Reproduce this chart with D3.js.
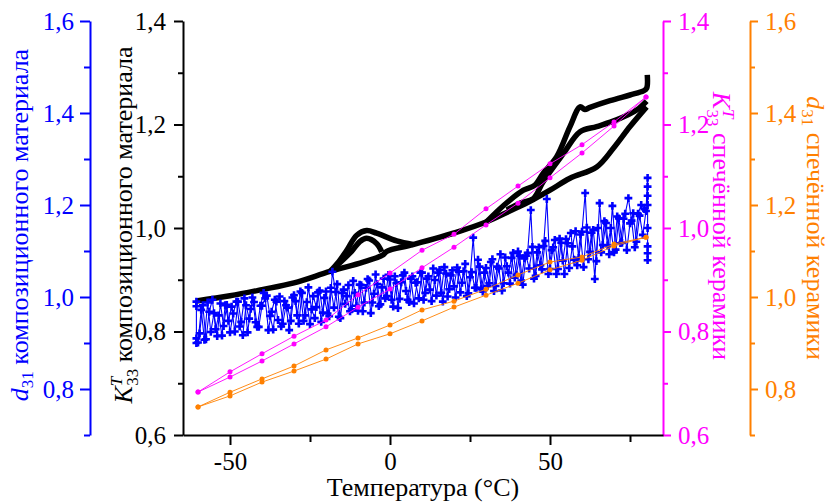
<!DOCTYPE html>
<html>
<head>
<meta charset="utf-8">
<script src="https://cdn.jsdelivr.net/npm/d3@7"></script>
<style>
    body { margin: 0; background: #fff; }
    svg { display: block; }
    svg text { font-family: "Liberation Serif", "Times New Roman", serif; }
</style>
</head>
<body>
<svg id="chart" width="830" height="502"></svg>
<script>
// ----- data -----

// sintered ceramic, measured every 10 degrees (two runs)
let cerTemps = [-60, -50, -40, -30, -20, -10, 0, 10, 20, 30, 40, 50, 60, 70, 80];
let kCerUp = [0.683, 0.722, 0.757, 0.791, 0.822, 0.871, 0.913, 0.957, 0.988, 1.037, 1.081, 1.124, 1.161, 1.205, 1.253];
let kCerDown = [0.683, 0.712, 0.743, 0.776, 0.809, 0.847, 0.882, 0.923, 0.963, 1.006, 1.048, 1.097, 1.145, 1.197, 1.253];
let dCerUp = [0.761, 0.793, 0.822, 0.850, 0.885, 0.911, 0.939, 0.972, 0.991, 1.017, 1.048, 1.076, 1.087, 1.115, 1.130];
let dCerDown = [0.761, 0.785, 0.815, 0.839, 0.865, 0.898, 0.920, 0.948, 0.978, 1.004, 1.030, 1.059, 1.080, 1.111, 1.130];

// composite K33 (black), [temperature, value] per branch
let kCompLower = [[-60.5, 0.859], [-50, 0.869], [-40, 0.881], [-30, 0.894], [-18.75, 0.916], [-8.4, 0.934],
    [-2.2, 0.948], [-1, 0.955], [7.2, 0.968], [21.9, 0.994], [30.2, 1.012], [36.5, 1.030], [40.6, 1.042],
    [44.8, 1.055], [50, 1.073], [56.25, 1.096], [64.6, 1.118], [69.8, 1.154], [75, 1.196], [80.2, 1.234]];
let kCompBumpOuter = [[-18.75, 0.916], [-16, 0.935], [-13.5, 0.957], [-10.4, 0.986], [-7.3, 0.995],
    [-4.2, 0.990], [2.1, 0.975], [7.2, 0.968]];
let kCompBumpInner = [[-17, 0.925], [-12, 0.955], [-9.4, 0.974], [-7.3, 0.980], [-4.2, 0.970], [-2.6, 0.954]];
let kCompUpper = [[30.2, 1.012], [33.3, 1.031], [37.5, 1.054], [41.7, 1.073], [45.3, 1.083], [47.9, 1.106],
    [52.1, 1.138], [56.25, 1.196], [59.4, 1.234], [60.9, 1.229], [62.5, 1.233], [68.75, 1.246], [75, 1.257],
    [79.2, 1.265], [80.2, 1.270], [80.4, 1.296]];
let kCompMiddle = [[36.5, 1.035], [40.6, 1.048], [44.8, 1.057], [47.9, 1.090], [54.2, 1.144], [59.4, 1.186],
    [64.6, 1.196], [70.8, 1.209], [77.1, 1.228], [80.2, 1.245]];

// composite d31 (blue), first run, [temperature, value]
let dCompRun1 = [
    [-60.5, 0.990], [-60.5, 0.900], [-60.5, 0.980], [-60.5, 0.910],
    [-60, 0.901], [-59, 0.972], [-58, 0.907], [-57, 0.988], [-56, 0.924], [-55, 0.965], [-54, 0.915], [-53, 0.986], [-52, 0.937],
    [-51, 0.983], [-50, 0.923], [-49, 0.964], [-48, 0.990], [-47, 0.936], [-46, 0.917], [-45, 0.982], [-44, 0.953], [-43, 0.999], [-42, 0.945],
    [-41, 0.935], [-40, 0.981], [-39, 0.997], [-38, 0.928], [-37, 0.968], [-36, 0.994], [-35, 0.950], [-34, 0.936], [-33, 0.991], [-32, 0.977],
    [-31, 0.948], [-30, 1.004], [-29, 0.960], [-28, 1.012], [-27, 0.948], [-26, 0.989], [-25, 0.941], [-24, 1.002], [-23, 0.978], [-22, 1.014],
    [-21, 0.966], [-20, 1.012], [-19, 0.958], [-18, 1.055], [-17, 1.011], [-16, 0.957], [-15, 1.009], [-14, 0.985], [-13, 1.026], [-12, 0.973],
    [-11, 1.009], [-10, 0.970], [-9, 1.026], [-8, 0.988], [-7, 1.039], [-6, 0.965], [-5, 1.007], [-4, 1.028], [-3, 0.984], [-2, 1.040],
    [-1, 1.002], [0, 1.038], [1, 0.979], [2, 1.030], [3, 0.996], [4, 1.047], [5, 1.013], [6, 0.989], [7, 1.045], [8, 1.031],
    [9, 0.997], [10, 1.053], [11, 1.009], [12, 1.045], [13, 0.991], [14, 1.037], [15, 1.053], [16, 1.009], [17, 1.065], [18, 1.001],
    [19, 1.047], [20, 1.023], [21, 1.064], [22, 1.010], [23, 1.056], [24, 1.002], [25, 1.043], [26, 1.129], [27, 1.020], [28, 1.066],
    [29, 1.012], [30, 1.063], [31, 1.030], [32, 1.082], [33, 1.024], [34, 1.062], [35, 1.014], [36, 1.086], [37, 1.053], [38, 1.085],
    [39, 1.042], [40, 1.099], [41, 1.036], [42, 1.084], [43, 1.096], [44, 1.189], [45, 1.040], [46, 1.097], [47, 1.069], [48, 1.111],
    [49, 1.213], [50, 1.061], [51, 1.108], [52, 1.050], [53, 1.127], [54, 1.079], [55, 1.126], [56, 1.063], [57, 1.110], [58, 1.143],
    [59, 1.085], [60, 1.142], [61, 1.226], [62, 1.082], [63, 1.140], [64, 1.039], [65, 1.150], [66, 1.097], [67, 1.165], [68, 1.112],
    [69, 1.150], [70, 1.097], [71, 1.175], [72, 1.117], [73, 1.170], [74, 1.102], [75, 1.160], [76, 1.182], [77, 1.120], [78, 1.177],
    [79, 1.135], [80, 1.187],
    [80.5, 1.259], [80.5, 1.080], [80.5, 1.240], [80.5, 1.095], [80.5, 1.220], [80.5, 1.110], [80.5, 1.200], [80.5, 1.150]
];

// composite d31 (blue), second run
let dCompRun2 = [
    [-59.5, 0.921], [-58.5, 0.982], [-57.5, 0.908], [-56.5, 0.968], [-55.5, 0.994], [-54.5, 0.930], [-53.5, 0.960], [-52.5, 0.916], [-51.5, 0.982], [-50.5, 0.948],
    [-49.5, 0.979], [-48.5, 0.925], [-47.5, 0.990], [-46.5, 0.946], [-45.5, 0.997], [-44.5, 0.923], [-43.5, 0.974], [-42.5, 0.989], [-41.5, 0.935], [-40.5, 0.981],
    [-39.5, 1.009], [-38.5, 1.003], [-37.5, 0.959], [-36.5, 0.929], [-35.5, 0.990], [-34.5, 1.001], [-33.5, 0.942], [-32.5, 0.982], [-31.5, 0.928], [-30.5, 0.999],
    [-29.5, 0.991], [-28.5, 0.942], [-27.5, 1.009], [-26.5, 0.960], [-25.5, 1.021], [-24.5, 0.973], [-23.5, 0.954], [-22.5, 1.010], [-21.5, 0.946], [-20.5, 0.998],
    [-19.5, 0.964], [-18.5, 1.020], [-17.5, 0.977], [-16.5, 1.028], [-15.5, 0.954], [-14.5, 1.016], [-13.5, 1.002], [-12.5, 0.969], [-11.5, 1.035], [-10.5, 0.981],
    [-9.5, 1.027], [-8.5, 0.969], [-7.5, 1.020], [-6.5, 1.036], [-5.5, 0.988], [-4.5, 1.049], [-3.5, 0.980], [-2.5, 1.021], [-1.5, 0.997], [-0.5, 1.048],
    [0.5, 0.994], [1.5, 1.045], [2.5, 0.976], [3.5, 1.032], [4.5, 1.053], [5.5, 0.994], [6.5, 1.040], [7.5, 0.986], [8.5, 1.032], [9.5, 1.053],
    [10.5, 0.994], [11.5, 1.040], [12.5, 1.016], [13.5, 1.062], [14.5, 1.003], [15.5, 1.059], [16.5, 0.990], [17.5, 1.051], [18.5, 1.017], [19.5, 1.058],
    [20.5, 0.999], [21.5, 1.055], [22.5, 1.031], [23.5, 1.072], [24.5, 1.008], [25.5, 1.054], [26.5, 1.020], [27.5, 1.081], [28.5, 1.017], [29.5, 1.053],
    [30.5, 1.024], [31.5, 1.076], [32.5, 1.013], [33.5, 1.066], [34.5, 1.093], [35.5, 1.030], [36.5, 1.067], [37.5, 1.029], [38.5, 1.096], [39.5, 1.048],
    [40.5, 1.090], [41.5, 1.027], [42.5, 1.090], [43.5, 1.062], [44.5, 1.109], [45.5, 1.046], [46.5, 1.108], [47.5, 1.060], [48.5, 1.122], [49.5, 1.050],
    [50.5, 1.102], [51.5, 1.124], [52.5, 1.061], [53.5, 1.118], [54.5, 1.050], [55.5, 1.117], [56.5, 1.139], [57.5, 1.081], [58.5, 1.069], [59.5, 1.136],
    [60.5, 1.065], [61.5, 1.151], [62.5, 1.098], [63.5, 1.146], [64.5, 1.078], [65.5, 1.204], [66.5, 1.113], [67.5, 1.161], [68.5, 1.093], [69.5, 1.198],
    [70.5, 1.103], [71.5, 1.171], [72.5, 1.118], [73.5, 1.181], [74.5, 1.215], [75.5, 1.166], [76.5, 1.108], [77.5, 1.181], [78.5, 1.200], [79.5, 1.191]
];

let tTicks = [-50, 0, 50];
let tMinor = [-25, 25, 75];
let kTicks = [0.6, 0.8, 1.0, 1.2, 1.4];
let kMinor = [0.7, 0.9, 1.1, 1.3];
let dTicks = [0.8, 1.0, 1.2, 1.4, 1.6];
let dMinor = [0.7, 0.9, 1.1, 1.3, 1.5];

// ----- chart -----

let blue = "#0000ff";
let magenta = "#ff00ff";
let orange = "#ff8000";
let serif = "Liberation Serif, Times New Roman, serif";

let plotLeft = 183, plotRight = 663, plotTop = 21, plotBottom = 435;

let svg = d3.select("#chart");

let x = d3.scaleLinear().domain([-64.6875, 85.3125]).range([plotLeft, plotRight]);
let yK = d3.scaleLinear().domain([0.6, 1.4]).range([plotBottom, plotTop]);
let yD = d3.scaleLinear().domain([0.7, 1.6]).range([plotBottom, plotTop]);

let commaFmt = d => d.toFixed(1).replace(".", ",");
let tempFmt = d => (d < 0 ? "-" + Math.abs(d) : "" + d);

function addAxis(gen, scale, pos, major, minor, color, fmt, majorLen, minorLen, pad) {
    let gMinor = svg.append("g")
        .attr("transform", pos)
        .call(gen(scale).tickValues(minor).tickSize(minorLen).tickSizeOuter(0).tickFormat(""));
    gMinor.select(".domain").remove();
    let gMajor = svg.append("g")
        .attr("transform", pos)
        .call(gen(scale).tickValues(major).tickSize(majorLen).tickPadding(pad).tickSizeOuter(0).tickFormat(fmt));
    [gMinor, gMajor].forEach(g => {
        g.attr("font-family", serif).attr("font-size", 25);
        g.selectAll("path, line").attr("stroke", color).attr("stroke-width", 2);
        g.selectAll("text")
            .attr("fill", color)
            .attr("font-family", serif)
            .attr("font-size", 25);
    });
}

addAxis(d3.axisLeft, yD, "translate(90,0)", dTicks, dMinor, blue, commaFmt, 10, 6, 6);
addAxis(d3.axisLeft, yK, `translate(${plotLeft},0)`, kTicks, kMinor, "#000", commaFmt, 9, 5, 8);
addAxis(d3.axisRight, yK, `translate(${plotRight},0)`, kTicks, kMinor, magenta, commaFmt, 8, 5, 7);
addAxis(d3.axisRight, yD, "translate(750,0)", dTicks, dMinor, orange, commaFmt, 8, 5, 7);
addAxis(d3.axisBottom, x, `translate(0,${plotBottom})`, tTicks, tMinor, "#000", tempFmt, 10, 7, 7);

// composite K33, thick black branches
let kLine = d3.line()
    .x(d => x(d[0]))
    .y(d => yK(d[1]))
    .curve(d3.curveCatmullRom);

[kCompLower, kCompBumpOuter, kCompBumpInner, kCompUpper, kCompMiddle].forEach(branch => {
    svg.append("path")
        .datum(branch)
        .attr("fill", "none")
        .attr("stroke", "#000")
        .attr("stroke-width", 5.5)
        .attr("stroke-linejoin", "round")
        .attr("d", kLine);
});

// composite d31, blue noisy points
let dLine = d3.line().x(d => x(d[0])).y(d => yD(d[1]));

[dCompRun1, dCompRun2].forEach(run => {
    svg.append("path")
        .datum(run)
        .attr("fill", "none")
        .attr("stroke", blue)
        .attr("stroke-width", 1.1)
        .attr("d", dLine);
});

[dCompRun1, dCompRun2].forEach(run => {
    svg.append("g")
        .selectAll("path")
        .data(run)
        .enter()
        .append("path")
        .attr("fill", blue)
        .attr("transform", d => `translate(${x(d[0])},${yD(d[1])})`)
        .attr("d", d3.symbol(d3.symbolCross).size(34));
});

// sintered ceramic series
function addCeramic(values, scale, color) {
    let pts = cerTemps.map((t, i) => [t, values[i]]);
    svg.append("path")
        .datum(pts)
        .attr("fill", "none")
        .attr("stroke", color)
        .attr("stroke-width", 0.9)
        .attr("d", d3.line().x(d => x(d[0])).y(d => scale(d[1])));
    svg.append("g")
        .selectAll("circle")
        .data(pts)
        .enter()
        .append("circle")
        .attr("cx", d => x(d[0]))
        .attr("cy", d => scale(d[1]))
        .attr("r", 2.5)
        .attr("fill", color);
}

addCeramic(dCerUp, yD, orange);
addCeramic(dCerDown, yD, orange);
addCeramic(kCerUp, yK, magenta);
addCeramic(kCerDown, yK, magenta);

// ----- titles -----

function title(tx, ty, angle, color) {
    return svg.append("text")
        .attr("transform", `translate(${tx},${ty}) rotate(${angle})`)
        .attr("text-anchor", "middle")
        .attr("fill", color)
        .attr("font-family", serif)
        .attr("font-size", 26);
}

function addK(t) {
    t.append("tspan").style("font-style", "italic").text("K");
    t.append("tspan").style("font-style", "italic").attr("font-size", 17).attr("dy", -10).text("T");
    t.append("tspan").attr("font-size", 17).attr("dx", -9).attr("dy", 16).text("33");
    t.append("tspan").attr("dy", -6).text(" ");
}

function addD(t) {
    t.append("tspan").style("font-style", "italic").text("d");
    t.append("tspan").attr("font-size", 17).attr("dy", 5).text("31");
    t.append("tspan").attr("dy", -5).text(" ");
}

let t1 = title(28, 225, -90, blue);
addD(t1);
t1.append("tspan").text("композиционного материала");

let t2 = title(132, 225, -90, "#000");
addK(t2);
t2.append("tspan").text("композиционного материала");

let t3 = title(713, 226, 90, magenta);
addK(t3);
t3.append("tspan").text("спечённой керамики");

let t4 = title(807, 228, 90, orange);
addD(t4);
t4.append("tspan").text("спечённой керамики");

svg.append("text")
    .attr("x", 423)
    .attr("y", 496)
    .attr("text-anchor", "middle")
    .attr("fill", "#000")
    .attr("font-family", serif)
    .attr("font-size", 26)
    .text("Температура (°C)");
</script>
</body>
</html>
